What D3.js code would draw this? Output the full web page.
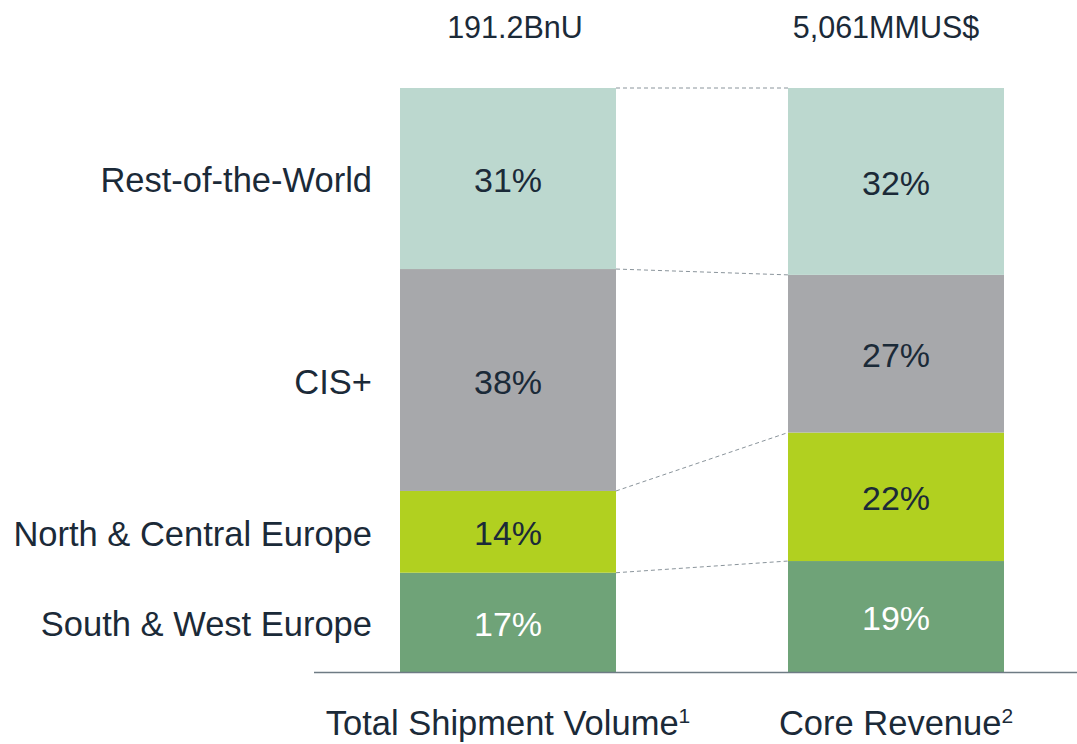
<!DOCTYPE html>
<html>
<head>
<meta charset="utf-8">
<script src="https://cdn.jsdelivr.net/npm/d3@7"></script>
<style>
  body { margin: 0; background: #fff; }
  svg text { font-family: "Liberation Sans", Arial, sans-serif; fill: #1b2a38; }
</style>
</head>
<body>
<div id="chart"></div>
<script>
// stacked from bottom to top
const regions = ['South & West Europe', 'North & Central Europe', 'CIS+', 'Rest-of-the-World'];
const columns = ['Total Shipment Volume', 'Core Revenue'];
const footnotes = ['1', '2'];
const totals = ['191.2BnU', '5,061MMUS$'];
const shipmentShare = [17, 14, 38, 31];
const revenueShare = [19, 22, 27, 32];

const colors = ['#6fa378', '#b1d020', '#a7a8ab', '#bcd8cf'];
const labelColors = ['#ffffff', '#1b2a38', '#1b2a38', '#1b2a38'];

const width = 1077, height = 744;
const barWidth = 216;
// the total labels sit a little off the bar centres in the original slide
const totalShift = [7, -10];

const svg = d3.select('#chart').append('svg')
    .attr('width', width)
    .attr('height', height);

const x = d3.scalePoint()
    .domain(columns)
    .range([508, 896]);

const y = d3.scaleLinear()
    .domain([0, 100])
    .range([672, 88]);

// build stacks for each column
const series = [shipmentShare, revenueShare].map((vals, ci) => {
  let acc = 0;
  return vals.map((v, i) => {
    const d = {col: columns[ci], region: regions[i], value: v, y0: acc, y1: acc + v, i};
    acc += v;
    return d;
  });
});

// connector lines between segment tops
const conn = svg.append('g');
regions.forEach((r, i) => {
  const a = series[0][i], b = series[1][i];
  conn.append('line')
      .attr('x1', x(columns[0]) + barWidth / 2)
      .attr('x2', x(columns[1]) - barWidth / 2)
      .attr('y1', y(a.y1))
      .attr('y2', y(b.y1))
      .attr('stroke', '#8a949b')
      .attr('stroke-width', 1)
      .attr('stroke-dasharray', '4,3');
});

// bars
series.forEach(stack => {
  const g = svg.append('g');
  g.selectAll('rect')
      .data(stack)
    .join('rect')
      .attr('x', d => x(d.col) - barWidth / 2)
      .attr('y', d => y(d.y1))
      .attr('width', barWidth)
      .attr('height', d => y(d.y0) - y(d.y1))
      .attr('fill', d => colors[d.i]);

  g.selectAll('text')
      .data(stack)
    .join('text')
      .attr('x', d => x(d.col))
      .attr('y', d => (y(d.y0) + y(d.y1)) / 2)
      .attr('dy', '0.4em')
      .attr('text-anchor', 'middle')
      .style('font-size', '34px')
      .style('fill', d => labelColors[d.i])
      .text(d => d.value + '%');
});

// baseline
svg.append('line')
    .attr('x1', 314).attr('x2', width)
    .attr('y1', y(0) + 0.5).attr('y2', y(0) + 0.5)
    .attr('stroke', '#6e7b84')
    .attr('stroke-width', 1.5);

// region labels, aligned with first column's segments
svg.append('g').selectAll('text')
    .data(series[0])
  .join('text')
    .attr('x', 372)
    .attr('y', d => (y(d.y0) + y(d.y1)) / 2)
    .attr('dy', '0.4em')
    .attr('text-anchor', 'end')
    .style('font-size', '34.5px')
    .text(d => d.region);

// totals on top
svg.append('g').selectAll('text')
    .data(columns)
  .join('text')
    .attr('x', (d, i) => x(d) + totalShift[i])
    .attr('y', 38)
    .attr('text-anchor', 'middle')
    .style('font-size', '30.5px')
    .text((d, i) => totals[i]);

// column titles with footnote markers
const titles = svg.append('g').selectAll('text')
    .data(columns)
  .join('text')
    .attr('x', d => x(d))
    .attr('y', 735)
    .attr('text-anchor', 'middle')
    .style('font-size', '34.5px');
titles.append('tspan').text(d => d);
titles.append('tspan')
    .attr('dy', -12)
    .style('font-size', '21px')
    .text((d, i) => footnotes[i]);
</script>
</body>
</html>
